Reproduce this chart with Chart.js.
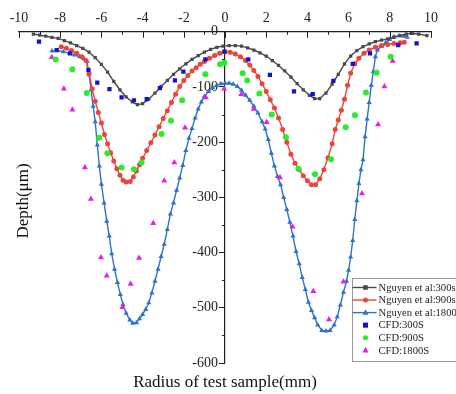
<!DOCTYPE html>
<html>
<head>
<meta charset="utf-8">
<script src="https://cdn.jsdelivr.net/npm/chart.js@4.4.1/dist/chart.umd.min.js"></script>
<style>
html,body{margin:0;padding:0;background:#fff;}
#wrap{width:456px;height:394px;}
</style>
</head>
<body>
<div id="wrap"><canvas id="c" width="456" height="394"></canvas></div>
<script>
// ---- Data ----
const seriesLabels = ["Nguyen et al:300s","Nguyen et al:900s","Nguyen et al:1800s","CFD:300S","CFD:900S","CFD:1800S"];
const xTickStep = 2;
const yTickStep = 100;

const nguyen300X = [-9.3,-9.0,-8.7,-8.4,-8.1,-7.8,-7.5,-7.2,-6.9,-6.6,-6.3,-6.0,-5.7,-5.4,-5.1,-4.8,-4.5,-4.25,-4.0,-3.7,-3.4,-3.1,-2.8,-2.5,-2.2,-1.9,-1.6,-1.3,-1.0,-0.7,-0.4,-0.1,0.2,0.5,0.8,1.1,1.4,1.7,2.0,2.3,2.6,2.9,3.2,3.5,3.8,4.1,4.35,4.6,4.9,5.2,5.5,5.8,6.1,6.4,6.7,7.0,7.3,7.6,7.9,8.2,8.5,8.8,9.1,9.4,9.8];
const nguyen300Y = [-4,-6,-8,-10,-12,-16,-20,-25,-30,-37,-47,-59,-73,-90,-105,-118,-127,-132,-130,-122,-111,-99,-88,-77,-67,-58,-50,-43,-37,-32,-28,-26,-25,-25,-26,-29,-33,-38,-44,-52,-61,-71,-82,-94,-105,-115,-121,-121,-111,-95,-77,-58,-44,-34,-27,-22,-18,-15,-13,-10,-7,-4,-3,-4,-7];

const nguyen900X = [-7.95,-7.7,-7.45,-7.2,-6.95,-6.75,-6.6,-6.45,-6.3,-6.15,-6.0,-5.85,-5.7,-5.55,-5.4,-5.25,-5.1,-4.95,-4.8,-4.6,-4.45,-4.3,-4.15,-4.0,-3.8,-3.6,-3.4,-3.2,-3.0,-2.8,-2.6,-2.4,-2.2,-2.0,-1.8,-1.6,-1.4,-1.2,-1.0,-0.75,-0.5,-0.25,0.0,0.25,0.5,0.75,1.0,1.2,1.4,1.6,1.8,2.0,2.2,2.4,2.6,2.8,3.0,3.2,3.4,3.6,3.8,4.0,4.2,4.4,4.6,4.8,5.0,5.2,5.35,5.5,5.65,5.8,5.95,6.1,6.3,6.5,6.75,7.0,7.3,7.6,7.9,8.2,8.5,8.7];
const nguyen900Y = [-27,-30,-34,-39,-45,-52,-75,-103,-126,-146,-165,-186,-203,-219,-234,-248,-260,-269,-272,-271,-263,-252,-241,-229,-215,-201,-187,-172,-157,-143,-128,-113,-99,-88,-79,-71,-65,-59,-54,-48,-43,-39,-36,-37,-40,-45,-52,-60,-70,-81,-94,-108,-123,-138,-156,-177,-200,-222,-238,-250,-261,-270,-277,-277,-266,-250,-228,-203,-177,-160,-142,-122,-97,-75,-58,-48,-39,-33,-28,-25,-23,-21,-20,-19];

const nguyen1800X = [-8.4,-8.15,-7.85,-7.55,-7.3,-7.05,-6.85,-6.7,-6.6,-6.5,-6.4,-6.3,-6.2,-6.1,-6.0,-5.87,-5.74,-5.62,-5.5,-5.36,-5.22,-5.08,-4.95,-4.8,-4.62,-4.48,-4.3,-4.15,-4.0,-3.85,-3.7,-3.55,-3.4,-3.25,-3.1,-2.95,-2.8,-2.65,-2.5,-2.35,-2.2,-2.05,-1.9,-1.75,-1.6,-1.45,-1.3,-1.15,-1.0,-0.8,-0.6,-0.4,-0.2,0.0,0.2,0.4,0.6,0.8,1.0,1.2,1.4,1.6,1.8,1.95,2.1,2.25,2.4,2.55,2.7,2.85,3.0,3.15,3.3,3.45,3.6,3.75,3.9,4.05,4.2,4.35,4.5,4.7,4.9,5.1,5.3,5.45,5.6,5.75,5.9,6.0,6.1,6.2,6.3,6.4,6.5,6.6,6.7,6.8,6.9,7.0,7.1,7.2,7.3,7.4,7.6,7.8,8.0,8.2,8.45,8.7,8.85];
const nguyen1800Y = [-35,-34,-36,-39,-42,-45,-49,-54,-78,-105,-135,-163,-205,-243,-276,-310,-343,-370,-402,-430,-454,-476,-494,-510,-522,-528,-527,-520,-512,-503,-491,-473,-452,-430,-407,-385,-358,-330,-310,-287,-265,-242,-215,-193,-175,-156,-140,-127,-117,-108,-101,-97,-94,-93,-93,-95,-99,-106,-115,-124,-135,-147,-163,-176,-195,-220,-243,-262,-277,-300,-322,-345,-370,-398,-420,-445,-467,-490,-505,-518,-531,-541,-542,-541,-531,-516,-495,-472,-452,-432,-408,-378,-340,-306,-275,-250,-232,-190,-158,-128,-97,-72,-45,-33,-26,-20,-14,-9,-7,-8,-10];

const cfd300X = [-9.03,-8.17,-7.52,-6.63,-6.2,-5.61,-5.02,-4.42,-3.8,-3.16,-2.43,-2.02,-0.95,-0.03,1.13,2.18,3.35,4.26,5.26,6.2,7.04,8.41,9.3];
const cfd300Y = [-18,-33,-39,-69,-92,-104,-119,-124,-122,-102,-88,-72,-50,-36,-50,-78,-108,-113,-89,-58,-39,-24,-21];

const cfd900X = [-8.22,-7.41,-6.71,-6.1,-5.71,-5.02,-4.42,-4.05,-3.08,-2.62,-2.08,-0.95,-0.24,-0.03,0.86,1.08,1.67,2.27,2.96,3.56,4.37,5.15,5.86,6.31,6.84,7.36,8.04];
const cfd900Y = [-50,-68,-111,-192,-220,-246,-249,-237,-185,-161,-124,-77,-59,-56,-75,-88,-112,-150,-191,-248,-258,-231,-173,-151,-110,-74,-45];

const cfd1800X = [-8.41,-7.82,-7.41,-6.8,-6.51,-6.02,-5.74,-4.98,-4.58,-4.17,-3.48,-2.95,-2.46,-1.94,-0.93,-0.04,0.79,1.39,2.02,2.67,3.28,4.29,5.05,5.75,6.65,7.43,7.74,8.14];
const cfd1800Y = [-46,-103,-141,-246,-303,-409,-442,-499,-457,-410,-347,-270,-237,-174,-119,-103,-113,-140,-164,-264,-353,-470,-521,-453,-293,-168,-99,-53];

// ---- Build chart ----
function pts(xs, ys){ return xs.map((x,i)=>({x:x, y:ys[i]})); }
const SERIF = "'Liberation Serif','Times New Roman',serif";

const styles = [
  {color:'#4a4a4a', style:'rect', r:2.3, line:true},
  {color:'#e8453c', style:'circle', r:2.5, line:true},
  {color:'#2f72c8', style:'triangle', r:3, line:true},
  {color:'#1010d8', style:'rect', r:3, line:false},
  {color:'#2aec2a', style:'circle', r:3, line:false},
  {color:'#e61ee6', style:'triangle', r:3.5, line:false}
];
const xsAll = [nguyen300X,nguyen900X,nguyen1800X,cfd300X,cfd900X,cfd1800X];
const ysAll = [nguyen300Y,nguyen900Y,nguyen1800Y,cfd300Y,cfd900Y,cfd1800Y];

const datasets = seriesLabels.map((lab,i)=>({
  label: lab,
  data: pts(xsAll[i], ysAll[i]),
  showLine: styles[i].line,
  borderColor: styles[i].color,
  backgroundColor: styles[i].color,
  borderWidth: styles[i].line ? 1.4 : 0,
  pointStyle: styles[i].style,
  pointRadius: styles[i].r,
  pointBorderWidth: 0,
  pointBackgroundColor: styles[i].color,
  tension: 0
}));
datasets.forEach((d,i)=>{ d.order = i < 3 ? 2 : 1; });

function drawMarker(ctx, style, x, y, r, color){
  ctx.fillStyle = color;
  ctx.beginPath();
  if (style === 'rect') { ctx.rect(x-r, y-r, 2*r, 2*r); }
  else if (style === 'circle') { ctx.arc(x, y, r, 0, Math.PI*2); }
  else { ctx.moveTo(x, y-r*1.15); ctx.lineTo(x+r, y+r*0.75); ctx.lineTo(x-r, y+r*0.75); ctx.closePath(); }
  ctx.fill();
}

const decor = {
  id: 'decor',
  afterDraw(chart){
    const ctx = chart.ctx, xs = chart.scales.x, ys = chart.scales.y, ca = chart.chartArea;
    ctx.save();
    ctx.strokeStyle = '#222'; ctx.lineWidth = 1;
    // x ticks pointing inward (down from top axis)
    for (let v = xs.min; v <= xs.max; v += 1) {
      const px = Math.round(xs.getPixelForValue(v)) + 0.5;
      const len = (v % xTickStep === 0) ? 6 : 3;
      ctx.beginPath(); ctx.moveTo(px, ca.top); ctx.lineTo(px, ca.top + len); ctx.stroke();
    }
    // y minor ticks
    const ax = Math.round(xs.getPixelForValue(0));
    for (let v = ys.min + yTickStep/2; v < ys.max; v += yTickStep) {
      const py = Math.round(ys.getPixelForValue(v)) + 0.5;
      ctx.beginPath(); ctx.moveTo(ax, py); ctx.lineTo(ax - 3, py); ctx.stroke();
    }
    // axis titles
    ctx.fillStyle = '#111';
    ctx.font = '17px ' + SERIF;
    ctx.textAlign = 'center'; ctx.textBaseline = 'middle';
    ctx.fillText('Radius of test sample(mm)', 225, 383);
    ctx.save();
    ctx.translate(24, 201); ctx.rotate(-Math.PI/2);
    ctx.fillText('Depth(\u03bcm)', 0, 0);
    ctx.restore();
    // legend box
    const lx = 352.5, ly = 278.5, lw = 112, lh = 83;
    ctx.fillStyle = '#fff'; ctx.fillRect(lx, ly, lw, lh);
    ctx.strokeStyle = '#999'; ctx.lineWidth = 1; ctx.strokeRect(lx, ly, lw, lh);
    ctx.font = '10.6px ' + SERIF; ctx.textAlign = 'left'; ctx.textBaseline = 'middle';
    chart.data.datasets.forEach((d,i)=>{
      const yy = ly + 9 + i*12.55;
      const st = styles[i];
      if (st.line) {
        ctx.strokeStyle = st.color; ctx.lineWidth = 1.4;
        ctx.beginPath(); ctx.moveTo(lx, yy); ctx.lineTo(lx + 24, yy); ctx.stroke();
      }
      drawMarker(ctx, st.style, lx + 13, yy, st.line ? st.r : st.r*0.85, st.color);
      ctx.fillStyle = '#222';
      ctx.fillText(d.label, lx + 26, yy + 0.5);
    });
    ctx.restore();
  }
};

new Chart(document.getElementById('c'), {
  type: 'scatter',
  data: { datasets: datasets },
  options: {
    responsive: false,
    animation: false,
    layout: { padding: { left: 19, right: 25, top: 5, bottom: 31 } },
    plugins: { legend: { display: false }, tooltip: { enabled: false } },
    scales: {
      x: {
        type: 'linear', position: 'top', min: -10, max: 10,
        ticks: { stepSize: xTickStep, font: { family: SERIF, size: 14 }, color: '#222', padding: 5 },
        grid: { drawOnChartArea: false, drawTicks: false },
        border: { color: '#222', width: 1.2 }
      },
      y: {
        type: 'linear', position: { x: 0 }, min: -600, max: 0,
        ticks: { stepSize: yTickStep, font: { family: SERIF, size: 14 }, color: '#222',
                 callback: (v) => v + '\u2002' },
        grid: { drawOnChartArea: false, tickLength: 5, tickColor: '#222' },
        border: { color: '#222', width: 1.2 }
      }
    }
  },
  plugins: [decor]
});
</script>
</body>
</html>
